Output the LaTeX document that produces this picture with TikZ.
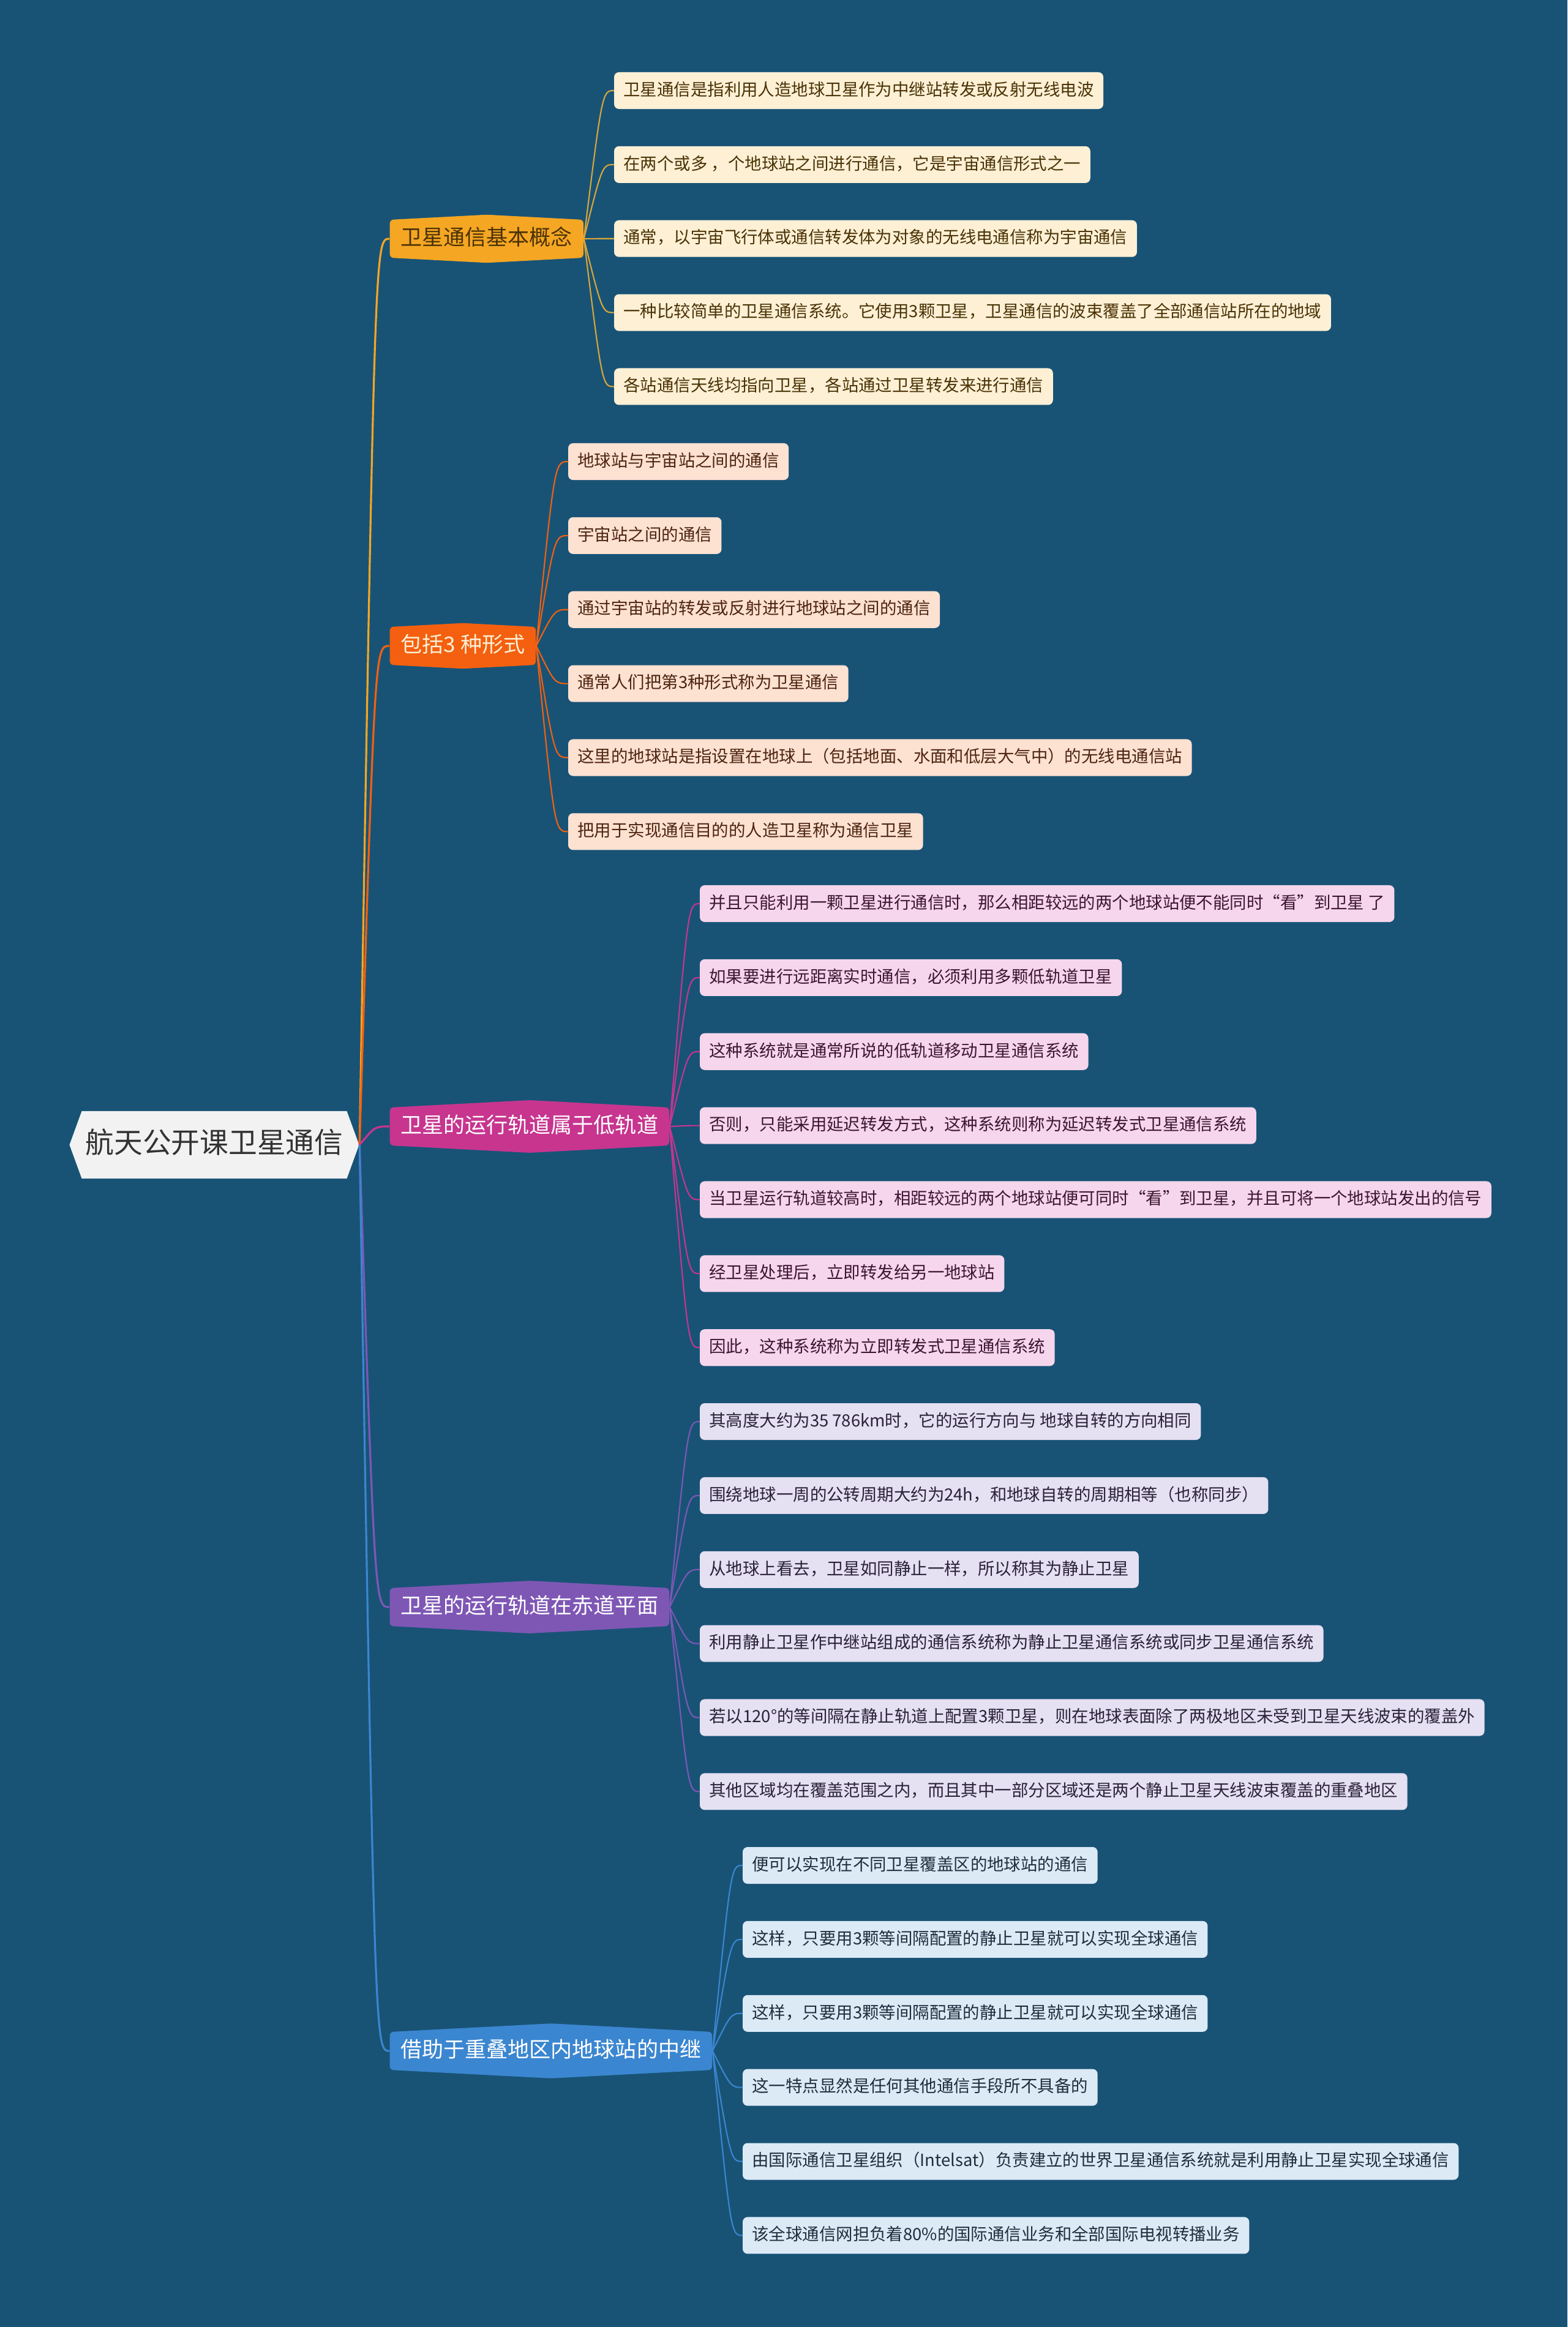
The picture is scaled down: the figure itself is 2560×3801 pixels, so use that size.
\documentclass[tikz,border=0pt]{standalone}
\usepackage{fontspec}
\setmainfont{Noto Sans CJK SC}
\usepackage{xcolor}
\usepackage{tikz}
\usetikzlibrary{positioning,shapes.symbols}

\definecolor{bgblue}{HTML}{185376}
\definecolor{rootgray}{HTML}{F2F2F2}
\definecolor{rootink}{HTML}{333333}
\definecolor{orangeA}{HTML}{F5A623}
\definecolor{linkA}{HTML}{D9A63A}
\definecolor{orangeB}{HTML}{F4600F}
\definecolor{magentaC}{HTML}{C7358F}
\definecolor{purpleD}{HTML}{7E57B5}
\definecolor{blueE}{HTML}{3B86D0}
\definecolor{fillA}{HTML}{FDF0D5}
\definecolor{fillB}{HTML}{FDE1D1}
\definecolor{fillC}{HTML}{F6D6EC}
\definecolor{fillD}{HTML}{E5E0F2}
\definecolor{fillE}{HTML}{DCEAF6}
\definecolor{inkA}{HTML}{4A3205}
\definecolor{inkB}{HTML}{4D2410}
\definecolor{inkC}{HTML}{3D1533}
\definecolor{inkD}{HTML}{2A2238}
\definecolor{inkE}{HTML}{1F2D3D}

\newcommand\rootfont{\fontsize{13.3pt}{15pt}\selectfont}
\newcommand\topicfont{\fontsize{9.96pt}{12pt}\selectfont}
\newcommand\leaffont{\fontsize{7.8pt}{9pt}\selectfont}

\begin{document}
\begin{tikzpicture}[
  x=0.01cm, y=-0.01cm,
  rootbox/.style={signal, signal to=west and east, signal pointer angle=140, fill=rootgray, text=rootink, font=\rootfont, inner xsep=0.06cm, inner ysep=0.316cm, text height=0.37cm, text depth=0.098cm},
  topic/.style={signal, signal to=north and south, signal pointer angle=174, rounded corners=0.06cm, font=\topicfont, text=white, inner xsep=0.18cm, inner ysep=0.135cm, text height=0.28cm, text depth=0.07cm, anchor=west},
  leaf/.style={rectangle, rounded corners=0.08cm, minimum height=0.6cm, inner xsep=0.155cm, inner ysep=0pt, outer sep=0pt, text height=0.22cm, text depth=0.055cm, font=\leaffont},
  link/.style={line width=0.6pt, to path={.. controls ([xshift=0.3cm]\tikztostart |- \tikztotarget) and ([xshift=0.3cm]\tikztostart |- \tikztotarget) .. (\tikztotarget)}},
  trunk/.style={line width=0.9pt, to path={.. controls ([xshift=0.25cm]\tikztostart |- \tikztotarget) and ([xshift=0.25cm]\tikztostart |- \tikztotarget) .. (\tikztotarget)}}
]
\fill[bgblue] (0,0) rectangle (2560,3801);
\useasboundingbox (0,0) rectangle (2560,3801);

% root and main topics
\node[rootbox] (root) at (350,1870) {航天公开课卫星通信};
\node[topic, fill=orangeA, text=inkA] (g1) at (636,390) {卫星通信基本概念};
\node[topic, fill=orangeB, text=fillA] (g2) at (636,1055) {包括3 种形式};
\node[topic, fill=magentaC] (g3) at (636,1840) {卫星的运行轨道属于低轨道};
\node[topic, fill=purpleD] (g4) at (636,2625) {卫星的运行轨道在赤道平面};
\node[topic, fill=blueE] (g5) at (636,3350) {借助于重叠地区内地球站的中继};

% leaves of g1
\node[leaf, fill=fillA, text=inkA, anchor=west] (a1) at (1003,148) {卫星通信是指利用人造地球卫星作为中继站转发或反射无线电波};
\node[leaf, fill=fillA, text=inkA, below=0.608cm of a1.south west, anchor=north west] (a2) {在两个或多 ，个地球站之间进行通信，它是宇宙通信形式之一};
\node[leaf, fill=fillA, text=inkA, below=0.608cm of a2.south west, anchor=north west] (a3) {通常，以宇宙飞行体或通信转发体为对象的无线电通信称为宇宙通信};
\node[leaf, fill=fillA, text=inkA, below=0.608cm of a3.south west, anchor=north west] (a4) {一种比较简单的卫星通信系统。它使用3颗卫星，卫星通信的波束覆盖了全部通信站所在的地域};
\node[leaf, fill=fillA, text=inkA, below=0.608cm of a4.south west, anchor=north west] (a5) {各站通信天线均指向卫星，各站通过卫星转发来进行通信};

% leaves of g2
\node[leaf, fill=fillB, text=inkB, anchor=west] (b1) at (928,754) {地球站与宇宙站之间的通信};
\node[leaf, fill=fillB, text=inkB, below=0.608cm of b1.south west, anchor=north west] (b2) {宇宙站之间的通信};
\node[leaf, fill=fillB, text=inkB, below=0.608cm of b2.south west, anchor=north west] (b3) {通过宇宙站的转发或反射进行地球站之间的通信};
\node[leaf, fill=fillB, text=inkB, below=0.608cm of b3.south west, anchor=north west] (b4) {通常人们把第3种形式称为卫星通信};
\node[leaf, fill=fillB, text=inkB, below=0.608cm of b4.south west, anchor=north west] (b5) {这里的地球站是指设置在地球上（包括地面、水面和低层大气中）的无线电通信站};
\node[leaf, fill=fillB, text=inkB, below=0.608cm of b5.south west, anchor=north west] (b6) {把用于实现通信目的的人造卫星称为通信卫星};

% leaves of g3
\node[leaf, fill=fillC, text=inkC, anchor=west] (c1) at (1143,1476) {并且只能利用一颗卫星进行通信时，那么相距较远的两个地球站便不能同时“看”到卫星 了};
\node[leaf, fill=fillC, text=inkC, below=0.608cm of c1.south west, anchor=north west] (c2) {如果要进行远距离实时通信，必须利用多颗低轨道卫星};
\node[leaf, fill=fillC, text=inkC, below=0.608cm of c2.south west, anchor=north west] (c3) {这种系统就是通常所说的低轨道移动卫星通信系统};
\node[leaf, fill=fillC, text=inkC, below=0.608cm of c3.south west, anchor=north west] (c4) {否则，只能采用延迟转发方式，这种系统则称为延迟转发式卫星通信系统};
\node[leaf, fill=fillC, text=inkC, below=0.608cm of c4.south west, anchor=north west] (c5) {当卫星运行轨道较高时，相距较远的两个地球站便可同时“看”到卫星，并且可将一个地球站发出的信号};
\node[leaf, fill=fillC, text=inkC, below=0.608cm of c5.south west, anchor=north west] (c6) {经卫星处理后，立即转发给另一地球站};
\node[leaf, fill=fillC, text=inkC, below=0.608cm of c6.south west, anchor=north west] (c7) {因此，这种系统称为立即转发式卫星通信系统};

% leaves of g4
\node[leaf, fill=fillD, text=inkD, anchor=west] (d1) at (1143,2322) {其高度大约为35 786km时，它的运行方向与 地球自转的方向相同};
\node[leaf, fill=fillD, text=inkD, below=0.608cm of d1.south west, anchor=north west] (d2) {围绕地球一周的公转周期大约为24h，和地球自转的周期相等（也称同步）};
\node[leaf, fill=fillD, text=inkD, below=0.608cm of d2.south west, anchor=north west] (d3) {从地球上看去，卫星如同静止一样，所以称其为静止卫星};
\node[leaf, fill=fillD, text=inkD, below=0.608cm of d3.south west, anchor=north west] (d4) {利用静止卫星作中继站组成的通信系统称为静止卫星通信系统或同步卫星通信系统};
\node[leaf, fill=fillD, text=inkD, below=0.608cm of d4.south west, anchor=north west] (d5) {若以120°的等间隔在静止轨道上配置3颗卫星，则在地球表面除了两极地区未受到卫星天线波束的覆盖外};
\node[leaf, fill=fillD, text=inkD, below=0.608cm of d5.south west, anchor=north west] (d6) {其他区域均在覆盖范围之内，而且其中一部分区域还是两个静止卫星天线波束覆盖的重叠地区};

% leaves of g5
\node[leaf, fill=fillE, text=inkE, anchor=west] (e1) at (1213,3047) {便可以实现在不同卫星覆盖区的地球站的通信};
\node[leaf, fill=fillE, text=inkE, below=0.608cm of e1.south west, anchor=north west] (e2) {这样，只要用3颗等间隔配置的静止卫星就可以实现全球通信};
\node[leaf, fill=fillE, text=inkE, below=0.608cm of e2.south west, anchor=north west] (e3) {这样，只要用3颗等间隔配置的静止卫星就可以实现全球通信};
\node[leaf, fill=fillE, text=inkE, below=0.608cm of e3.south west, anchor=north west] (e4) {这一特点显然是任何其他通信手段所不具备的};
\node[leaf, fill=fillE, text=inkE, below=0.608cm of e4.south west, anchor=north west] (e5) {由国际通信卫星组织（Intelsat）负责建立的世界卫星通信系统就是利用静止卫星实现全球通信};
\node[leaf, fill=fillE, text=inkE, below=0.608cm of e5.south west, anchor=north west] (e6) {该全球通信网担负着80\%的国际通信业务和全部国际电视转播业务};

% connectors
\draw[trunk, orangeA] (root.east) to (g1.west);
\draw[trunk, orangeB] (root.east) to (g2.west);
\draw[trunk, magentaC] (root.east) to (g3.west);
\draw[trunk, purpleD] (root.east) to (g4.west);
\draw[trunk, blueE] (root.east) to (g5.west);
\draw[link, linkA] (g1.east) to (a1.west);
\draw[link, linkA] (g1.east) to (a2.west);
\draw[link, linkA] (g1.east) to (a3.west);
\draw[link, linkA] (g1.east) to (a4.west);
\draw[link, linkA] (g1.east) to (a5.west);
\draw[link, orangeB] (g2.east) to (b1.west);
\draw[link, orangeB] (g2.east) to (b2.west);
\draw[link, orangeB] (g2.east) to (b3.west);
\draw[link, orangeB] (g2.east) to (b4.west);
\draw[link, orangeB] (g2.east) to (b5.west);
\draw[link, orangeB] (g2.east) to (b6.west);
\draw[link, magentaC] (g3.east) to (c1.west);
\draw[link, magentaC] (g3.east) to (c2.west);
\draw[link, magentaC] (g3.east) to (c3.west);
\draw[link, magentaC] (g3.east) to (c4.west);
\draw[link, magentaC] (g3.east) to (c5.west);
\draw[link, magentaC] (g3.east) to (c6.west);
\draw[link, magentaC] (g3.east) to (c7.west);
\draw[link, purpleD] (g4.east) to (d1.west);
\draw[link, purpleD] (g4.east) to (d2.west);
\draw[link, purpleD] (g4.east) to (d3.west);
\draw[link, purpleD] (g4.east) to (d4.west);
\draw[link, purpleD] (g4.east) to (d5.west);
\draw[link, purpleD] (g4.east) to (d6.west);
\draw[link, blueE] (g5.east) to (e1.west);
\draw[link, blueE] (g5.east) to (e2.west);
\draw[link, blueE] (g5.east) to (e3.west);
\draw[link, blueE] (g5.east) to (e4.west);
\draw[link, blueE] (g5.east) to (e5.west);
\draw[link, blueE] (g5.east) to (e6.west);
\end{tikzpicture}
\end{document}
